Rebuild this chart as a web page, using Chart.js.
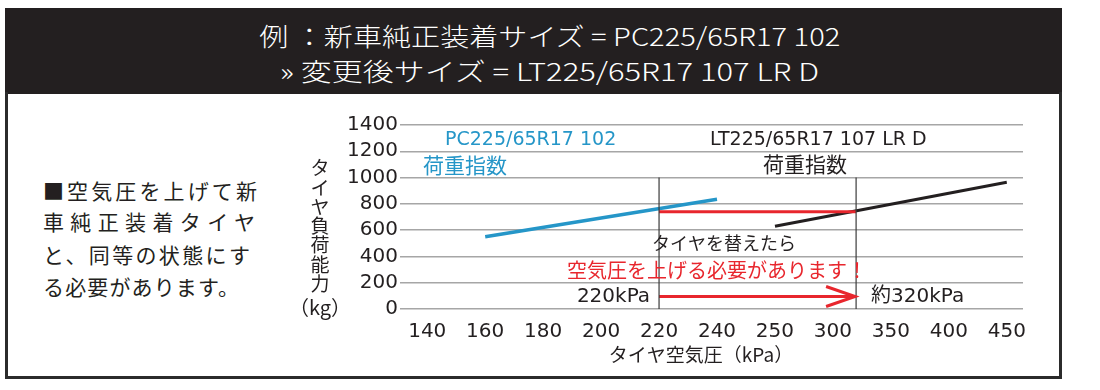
<!DOCTYPE html>
<html>
<head>
<meta charset="utf-8">
<script src="https://cdn.jsdelivr.net/npm/chart.js@4.4.1/dist/chart.umd.min.js"></script>
<style>
  body { margin: 0; width: 1100px; height: 390px; background: #fff; position: relative; overflow: hidden;
         font-family: "Noto Sans CJK JP", sans-serif; }
  #header { position: absolute; left: 5px; top: 8px; width: 1057px; height: 86px; background: #231f20; }
  #box { position: absolute; left: 5px; top: 92px; width: 1051px; height: 284px;
         border: 3px solid #2b2b2b; border-top: none; }
  .hl { position: absolute; left: 0; width: 1100px; text-align: center; color: #fff;
        font-size: 25px; font-weight: 300; line-height: 1; white-space: nowrap; }
  .hl span { display: inline-block; transform-origin: center; }
  .lt { position: absolute; left: 43px; font-size: 21px; line-height: 1; color: #231f20; white-space: nowrap; }
  #c { position: absolute; left: 0; top: 0; }
</style>
</head>
<body>
<div id="header"></div>
<div id="box"></div>
<div class="hl" style="top:23px"><span data-w="581">例 ：新車純正装着サイズ = PC225/65R17 102</span></div>
<div class="hl" style="top:58px"><span data-w="539">» 変更後サイズ = LT225/65R17 107 LR D</span></div>

<div class="lt" style="top:180px" data-w="214">■空気圧を上げて新</div>
<div class="lt" style="top:211px" data-w="212">車純正装着タイヤ</div>
<div class="lt" style="top:244px" data-w="207">と、同等の状態にす</div>
<div class="lt" style="top:276px" data-w="196">る必要があります。</div>

<canvas id="c" width="1100" height="390"></canvas>

<script>
// 横軸の目盛（間隔が途中で変わる）
const pressureTicks = [140, 160, 180, 200, 220, 240, 250, 300, 350, 400, 450];
const loadTicks = [0, 200, 400, 600, 800, 1000, 1200, 1400];

// 荷重指数の線
const pcPressure = [160, 240];
const pcLoad = [550, 835];
const ltPressure = [250, 450];
const ltLoad = [630, 965];

// 比較用の値
const beforePressure = 220;
const afterPressure = 320;
const sameLoad = 740;
const guideTop = 1000;
const arrowLoad = 95;

// ヘッダーの文字幅を合わせる
document.querySelectorAll('.hl span').forEach(function (el) {
    const w = el.getBoundingClientRect().width;
    el.style.transform = 'scaleX(' + (Number(el.dataset.w) / w) + ')';
});
// 左の文章は字間で幅を合わせる
document.querySelectorAll('.lt').forEach(function (el) {
    const w = el.getBoundingClientRect().width;
    const n = el.textContent.length;
    el.style.letterSpacing = ((Number(el.dataset.w) - w) / (n - 1)) + 'px';
});

// 目盛の並びを軸上の位置に変換
function pos(p) {
    for (let i = 0; i < pressureTicks.length - 1; i++) {
        const a = pressureTicks[i], b = pressureTicks[i + 1];
        if (p <= b) return i + (p - a) / (b - a);
    }
    return pressureTicks.length - 1;
}

function pts(xs, ys) {
    return xs.map((p, i) => ({ x: pos(p), y: ys[i] }));
}

const BLUE = '#2596c8';
const RED = '#e8262d';
const DARK = '#231f20';
const LATIN = '"DejaVu Sans", "Noto Sans CJK JP", sans-serif';
const CJK = '"Noto Sans CJK JP", sans-serif';

function txt(ctx, s, x, y, size, family, color, align) {
    ctx.font = size + 'px ' + family;
    ctx.fillStyle = color;
    ctx.textAlign = align || 'left';
    ctx.textBaseline = 'middle';
    ctx.fillText(s, x, y);
}

const notes = {
    id: 'notes',
    afterDatasetsDraw(chart) {
        const ctx = chart.ctx;
        const xs = chart.scales.x, ys = chart.scales.y;
        const xb = xs.getPixelForValue(pos(beforePressure));
        const xa = xs.getPixelForValue(pos(afterPressure));
        const ya = ys.getPixelForValue(arrowLoad);
        ctx.save();

        // 矢印の先
        ctx.strokeStyle = RED;
        ctx.lineWidth = 3;
        ctx.beginPath();
        ctx.moveTo(xa - 30, ya - 10);
        ctx.lineTo(xa - 1, ya);
        ctx.lineTo(xa - 30, ya + 10);
        ctx.stroke();

        txt(ctx, 'PC225/65R17 102', 445, 140, 19, LATIN, BLUE);
        txt(ctx, '荷重指数', 423, 165, 21, CJK, BLUE);
        txt(ctx, 'LT225/65R17 107 LR D', 710, 140, 19, LATIN, DARK);
        txt(ctx, '荷重指数', 763, 164, 21, CJK, DARK);
        txt(ctx, 'タイヤを替えたら', xb - 7, 243, 18, CJK, DARK);
        txt(ctx, '空気圧を上げる必要があります！', 567, 270, 20, CJK, RED);
        txt(ctx, '220kPa', xb - 9, 297, 20, LATIN, DARK, 'right');
        txt(ctx, '約320kPa', xa + 15, 297, 20, LATIN, DARK);

        // 軸タイトル
        const yTitle = 'タイヤ負荷能力';
        for (let i = 0; i < yTitle.length; i++) {
            txt(ctx, yTitle[i], 320, 168 + i * 19.3, 19, CJK, DARK, 'center');
        }
        txt(ctx, '（kg）', 320, 307, 20, CJK, DARK, 'center');
        txt(ctx, 'タイヤ空気圧（kPa）', 701, 355, 19, CJK, DARK, 'center');
        ctx.restore();
    }
};

function line(data, color, width) {
    return { data: data, borderColor: color, borderWidth: width, pointRadius: 0, fill: false, tension: 0 };
}

new Chart(document.getElementById('c'), {
    type: 'line',
    data: {
        datasets: [
            line([{ x: pos(beforePressure), y: 0 }, { x: pos(beforePressure), y: guideTop }], '#3a3a3a', 1.2),
            line([{ x: pos(afterPressure), y: 0 }, { x: pos(afterPressure), y: guideTop }], '#3a3a3a', 1.2),
            line(pts([beforePressure, afterPressure], [sameLoad, sameLoad]), RED, 3),
            line(pts([beforePressure, afterPressure], [arrowLoad, arrowLoad]), RED, 3),
            line(pts(ltPressure, ltLoad), DARK, 3),
            line(pts(pcPressure, pcLoad), BLUE, 3.5)
        ]
    },
    options: {
        responsive: false,
        animation: false,
        devicePixelRatio: 1,
        layout: { padding: { top: 125, right: 77, bottom: 0, left: 0 } },
        plugins: { legend: { display: false }, tooltip: { enabled: false } },
        scales: {
            x: {
                type: 'linear',
                min: -0.47,
                max: 10.28,
                afterBuildTicks: s => { s.ticks = pressureTicks.map((_, i) => ({ value: i })); },
                afterFit: s => { s.height = 81; },
                ticks: {
                    callback: v => String(pressureTicks[v]),
                    autoSkip: false,
                    maxRotation: 0,
                    padding: 3,
                    color: DARK,
                    font: { family: 'DejaVu Sans', size: 20 }
                },
                grid: { display: false },
                border: { display: false }
            },
            y: {
                min: 0,
                max: 1400,
                afterBuildTicks: s => { s.ticks = loadTicks.map(v => ({ value: v })); },
                afterFit: s => { s.width = 400; },
                ticks: {
                    callback: v => String(v),
                    autoSkip: false,
                    padding: 2,
                    color: DARK,
                    font: { family: 'DejaVu Sans', size: 20 }
                },
                grid: { color: '#a6a6a6', lineWidth: 1.5, drawTicks: false },
                border: { display: false }
            }
        }
    },
    plugins: [notes]
});
</script>
</body>
</html>
